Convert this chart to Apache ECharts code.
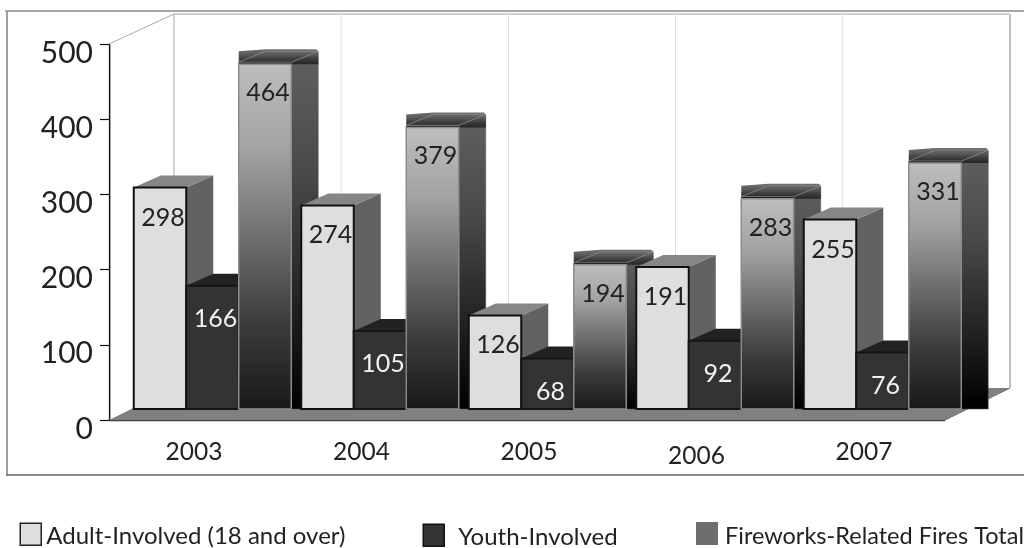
<!DOCTYPE html>
<html>
<head>
<meta charset="utf-8">
<style>html,body{margin:0;padding:0;background:#fff}#chart{width:1024px;height:548px}</style>
<script src="https://cdn.jsdelivr.net/npm/echarts@6/dist/echarts.min.js"></script>
</head>
<body>
<div id="chart"></div>
<script>
const years = ['2003', '2004', '2005', '2006', '2007'];
const adult = [298, 274, 126, 191, 255];
const youth = [166, 105, 68, 92, 76];
const total = [464, 379, 194, 283, 331];
const yTicks = [0, 100, 200, 300, 400, 500];

const FONT = 'Lato, "Noto Sans", sans-serif';
const NAMES = ['Adult-Involved (18 and over)', 'Youth-Involved', 'Fireworks-Related Fires Total'];

// Depth of the box the chart sits in, and of each individual column.
const BOX_DX = 65, BOX_DY = -32;
const BAR_DX = 27, BAR_DY = -12;
const BAR_W = 52.5;
const GROUP_W = BAR_W * 3;
const CAP_H = 15;

// Year captions sit left of their group's centre; one of them hangs lower.
const YEAR_NUDGE_X = -18.5;
const yearNudgeY = [0, 0, 0, 4, 0];
// Vertical drop of the value captions below the column top, per series.
const captionDrop = [30, 33, 29];

const vGrad = (stops) => ({
  type: 'linear', x: 0, y: 0, x2: 0, y2: 1,
  colorStops: stops.map((c, i) => ({ offset: i / (stops.length - 1), color: c }))
});

function poly(points, style, z2) {
  return { type: 'polygon', shape: { points }, style, z2 };
}

// The back wall, side wall and floor of the 3D box.
function renderBox(params) {
  const { x, y, width: w, height: h } = params.coordSys;
  const b = y + h;
  const children = [];
  const line = (x1, y1, x2, y2, stroke, lw) => ({
    type: 'line', shape: { x1, y1, x2, y2 }, style: { stroke, lineWidth: lw }, z2: 1
  });
  const backL = x + BOX_DX, backB = b + BOX_DY, top = y + BOX_DY + 2;
  children.push(line(x, y, backL, top, '#a8a8a8', 1));
  children.push(line(backL, top, backL + w, top, '#a0a0a0', 1));
  children.push(line(backL, top, backL, backB, '#b4b4b4', 1.2));
  children.push(line(x + 1.5, y, x + 1.5, b, '#a8a8a8', 1));
  for (let i = 1; i <= 5; i++) {
    const gx = backL + (w * i) / 5;
    children.push(line(gx, top, gx, backB, i === 5 ? '#c0c0c0' : '#dcdcdc', i === 5 ? 2 : 1));
  }
  children.push(poly([[x, b], [backL, backB], [backL + w, backB], [x + w, b]], { fill: '#808080' }, 2));
  children.push(line(x, b + 0.5, x + w, b + 0.5, '#404040', 1.5));
  children.push(line(x + w, b, backL + w, backB, '#505050', 1));
  return { type: 'group', children };
}

function barPieces(api, s) {
  const cat = api.value(0);
  const val = api.value(1);
  const c = api.coord([cat, val]);
  const base = api.coord([cat, 0])[1];
  const l = c[0] - GROUP_W / 2 + s * BAR_W;
  const r = l + BAR_W;
  const t = c[1];
  const z = 10 + cat * 10 + s;
  const kids = [];
  const rr = r + BAR_DX, tt = t + BAR_DY;
  if (s === 0) {
    kids.push(poly([[r, t], [rr, tt], [rr, base + BAR_DY], [r, base]], { fill: '#626262' }, z));
    kids.push(poly([[l, t], [l + BAR_DX, tt], [rr, tt], [r, t]], { fill: '#868686' }, z));
    kids.push({ type: 'rect', shape: { x: l, y: t, width: BAR_W, height: base - t },
      style: { fill: '#dedede', stroke: '#111', lineWidth: 2 }, z2: z });
  } else if (s === 1) {
    kids.push(poly([[l, t], [l + BAR_DX, tt], [rr, tt], [r, t]], { fill: '#222222' }, z));
    kids.push({ type: 'rect', shape: { x: l, y: t, width: BAR_W, height: base - t },
      style: { fill: '#333333', stroke: '#151515', lineWidth: 2 }, z2: z });
  } else {
    kids.push(poly([[r, t], [rr, tt], [rr, base], [r, base]], {
      fill: vGrad(['#606060', '#4a4a4a', '#262626', '#000000']), stroke: '#555', lineWidth: 0.5 }, z));
    // Dark lid above the column, with the lighter outline of its top face.
    kids.push(poly([[l, t - CAP_H + 2], [l + BAR_DX, t - CAP_H], [rr - 2, t - CAP_H], [rr, t - CAP_H + 2], [rr, t], [l, t]],
      { fill: vGrad(['#707070', '#5c5c5c', '#3c3c3c', '#262626']) }, z));
    kids.push(poly([[l, t - 2], [l + BAR_DX, tt - 1], [rr, tt - 1], [r, t - 2]],
      { fill: 'transparent', stroke: '#8a8a8a', lineWidth: 0.8 }, z));
    kids.push({ type: 'line', shape: { x1: l, y1: t - 0.5, x2: r, y2: t - 0.5 },
      style: { stroke: '#1c1c1c', lineWidth: 2 }, z2: z });
    kids.push({ type: 'rect', shape: { x: l, y: t, width: BAR_W, height: base - t },
      style: { fill: vGrad(['#bebebe', '#a2a2a2', '#6e6e6e', '#3c3c3c', '#181818']),
        stroke: '#8c8c8c', lineWidth: 1.5 }, z2: z });
  }
  // Value caption on the column's face.
  kids.push({ type: 'text', z2: z + 0.5,
    style: { text: String(val), x: (l + r) / 2 + 3, y: t + captionDrop[s], align: 'center', verticalAlign: 'middle',
      font: '25px ' + FONT, fill: s === 1 ? '#f2f2f2' : '#222222' } });
  return { type: 'group', children: kids };
}

function renderYear(params, api) {
  const i = api.value(0);
  const c = api.coord([i, 0]);
  return { type: 'text', style: { text: years[i], x: c[0] + YEAR_NUDGE_X, y: c[1] + 43 + yearNudgeY[i],
    align: 'center', verticalAlign: 'middle', font: '24.5px ' + FONT, fill: '#222222' } };
}

const barSeries = [adult, youth, total].map((vals, s) => ({
  type: 'custom',
  name: NAMES[s],
  xAxisIndex: 1, yAxisIndex: 1,
  coordinateSystem: 'cartesian2d',
  clip: false,
  z: 3,
  encode: { x: 0, y: 1 },
  data: vals.map((v, i) => [i, v]),
  renderItem: (params, api) => barPieces(api, s)
}));

// Legend captions are set a little below their swatches.
const legendText = (leftPad, size) => ({
  rich: { t: { fontFamily: FONT, fontSize: size, color: '#222222', padding: [5, 0, 0, leftPad] } }
});
const legendFormat = (name) => '{t|' + name + '}';

const chart = echarts.init(document.getElementById('chart'), null, { renderer: 'canvas' });
chart.setOption({
  animation: false,
  backgroundColor: '#fff',
  grid: [
    { left: 109, width: 836, top: 44, height: 376 },   // front plane carrying the value axis
    { left: 128.75, width: 837.5, top: 37.5, height: 371.5 } // plane the columns stand on
  ],
  xAxis: [
    { type: 'category', gridIndex: 0, data: years, axisLine: { show: false }, axisTick: { show: false }, axisLabel: { show: false } },
    { type: 'category', gridIndex: 1, data: years, axisLine: { show: false }, axisTick: { show: false }, axisLabel: { show: false } }
  ],
  yAxis: [
    { type: 'value', gridIndex: 0, min: yTicks[0], max: yTicks[yTicks.length - 1], interval: 100,
      axisLine: { show: true, lineStyle: { color: '#111', width: 1.2 } },
      axisTick: { show: true, length: 9, lineStyle: { color: '#111', width: 1.2 } },
      splitLine: { show: false },
      axisLabel: { fontFamily: FONT, fontSize: 30, color: '#222222', margin: 16, verticalAlign: 'top', lineHeight: 18 } },
    { type: 'value', gridIndex: 1, min: 0, max: 500, interval: 100, show: false, splitLine: { show: false } }
  ],
  legend: [
    { left: 19.5, top: 522.5, itemWidth: 21, itemHeight: 22, selectedMode: false, padding: 0,
      textStyle: legendText(0, 24), formatter: legendFormat,
      data: [{ name: NAMES[0], icon: 'rect', itemStyle: { color: '#dedede', borderColor: '#222', borderWidth: 1.5 } }] },
    { left: 422.5, top: 523.5, itemWidth: 21, itemHeight: 22, selectedMode: false, padding: 0,
      textStyle: legendText(9, 24), formatter: legendFormat,
      data: [{ name: NAMES[1], icon: 'rect', itemStyle: { color: '#333', borderColor: '#111', borderWidth: 1.5 } }] },
    { left: 696, top: 522, itemWidth: 22, itemHeight: 23, selectedMode: false, padding: 0,
      textStyle: legendText(2, 23.5), formatter: legendFormat,
      data: [{ name: NAMES[2], icon: 'rect', itemStyle: { color: '#6e6e6e', borderWidth: 0 } }] }
  ],
  graphic: [
    { type: 'line', z: 0, silent: true, shape: { x1: 5, y1: 11, x2: 1024, y2: 11 }, style: { stroke: '#a6a6a6', lineWidth: 2 } },
    { type: 'line', z: 0, silent: true, shape: { x1: 7, y1: 10, x2: 7, y2: 475 }, style: { stroke: '#a0a0a0', lineWidth: 2 } },
    { type: 'line', z: 0, silent: true, shape: { x1: 6, y1: 475, x2: 1024, y2: 475 }, style: { stroke: '#666666', lineWidth: 1.5 } }
  ],
  series: [
    { type: 'custom', name: 'box', xAxisIndex: 0, yAxisIndex: 0, clip: false, z: 1, silent: true, data: [[0, 0]], renderItem: renderBox },
    { type: 'custom', name: 'years', xAxisIndex: 1, yAxisIndex: 1, clip: false, z: 2, silent: true, data: years.map((y, i) => [i, 0]), renderItem: renderYear },
    ...barSeries
  ]
});
</script>
</body>
</html>
